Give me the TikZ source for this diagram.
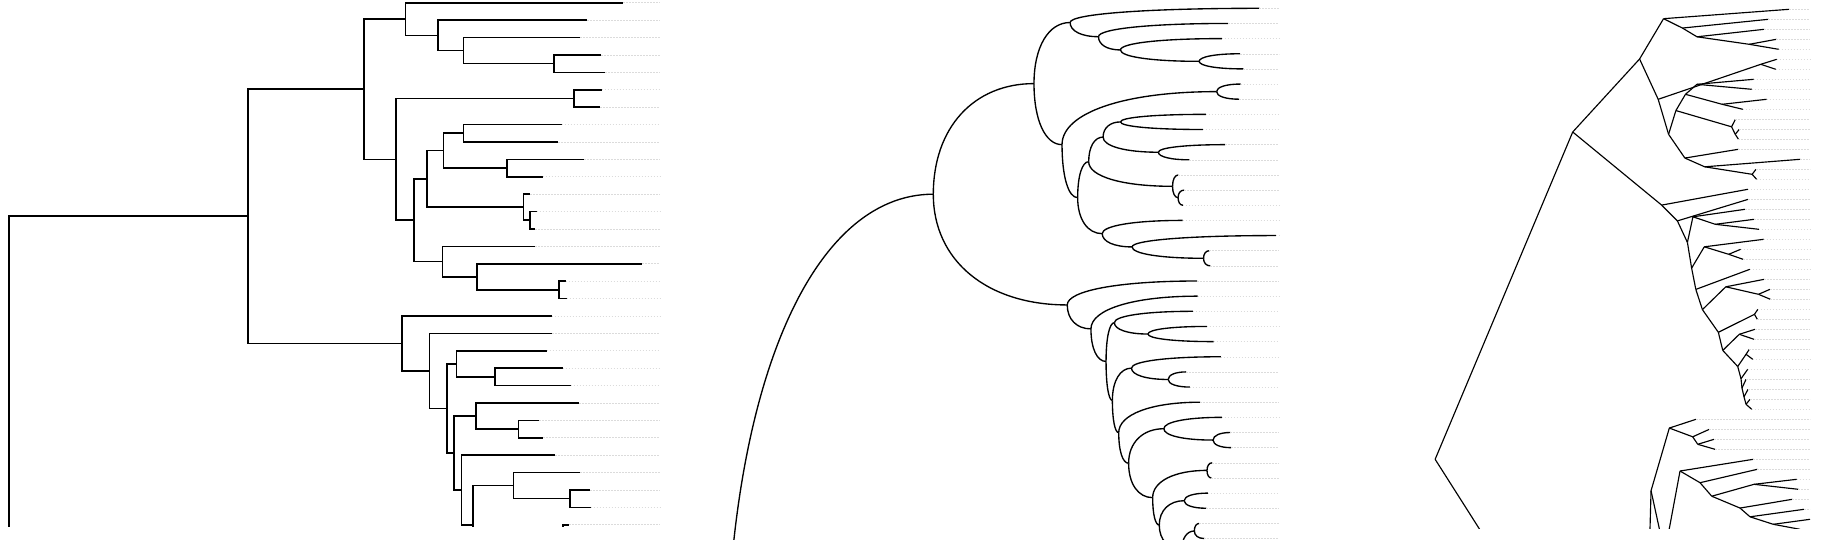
\documentclass[tikz,border=0pt]{standalone}
\tikzset{
  lbr/.style={line width=1.6pt, black},
  mbr/.style={line width=1.35pt, black},
  rbr/.style={line width=1.15pt, black},
  leader/.style={line width=0.5pt, gray!28, dash pattern=on 1.5pt off 1.5pt},
}
% one branch: parent (depth,row) -> child (depth,row)
\newcommand\tbranch[4]{%
  \pgfmathsetmacro\xa{\panelX{#1}}%
  \pgfmathsetmacro\ya{\panelY{#2}}%
  \pgfmathsetmacro\xb{\panelX{#3}}%
  \pgfmathsetmacro\yb{\panelY{#4}}%
  \panelEdge}
% a tip branch with its dotted leader
\newcommand\ttip[4]{\tbranch{#1}{#2}{#3}{#4}\draw[leader] (\xb,\yb) -- (\panelEnd,\yb);}
\newcommand\treedata{%
 \tbranch{9}{45}{247.7}{12.27}%
 \tbranch{9}{45}{369.7}{77.7}%
 \tbranch{247.7}{12.27}{363.7}{4.97}%
 \tbranch{247.7}{12.27}{402}{19.58}%
 \tbranch{363.7}{4.97}{405.3}{0.9375}%
 \tbranch{363.7}{4.97}{396}{9}%
 \ttip{405.3}{0.9375}{623.3}{0}%
 \tbranch{405.3}{0.9375}{438}{1.875}%
 \ttip{438}{1.875}{587.3}{1}%
 \tbranch{438}{1.875}{463.3}{2.75}%
 \ttip{463.3}{2.75}{580}{2}%
 \tbranch{463.3}{2.75}{554}{3.5}%
 \ttip{554}{3.5}{601}{3}%
 \ttip{554}{3.5}{605}{4}%
 \tbranch{396}{9}{574}{5.5}%
 \tbranch{396}{9}{414}{12.5}%
 \ttip{574}{5.5}{601.7}{5}%
 \ttip{574}{5.5}{600}{6}%
 \tbranch{414}{12.5}{426.7}{10.125}%
 \tbranch{414}{12.5}{442.3}{14.875}%
 \tbranch{426.7}{10.125}{443.3}{8.5}%
 \tbranch{426.7}{10.125}{523.3}{11.75}%
 \tbranch{443.3}{8.5}{463.3}{7.5}%
 \tbranch{443.3}{8.5}{507}{9.5}%
 \ttip{463.3}{7.5}{561.7}{7}%
 \ttip{463.3}{7.5}{558.3}{8}%
 \ttip{507}{9.5}{584}{9}%
 \ttip{507}{9.5}{542.7}{10}%
 \ttip{523.3}{11.75}{530}{11}%
 \tbranch{523.3}{11.75}{529.7}{12.5}%
 \ttip{529.7}{12.5}{536.7}{12}%
 \ttip{529.7}{12.5}{535.3}{13}%
 \ttip{442.3}{14.875}{535}{14}%
 \tbranch{442.3}{14.875}{476.7}{15.75}%
 \ttip{476.7}{15.75}{642.3}{15}%
 \tbranch{476.7}{15.75}{559}{16.5}%
 \ttip{559}{16.5}{565.7}{16}%
 \ttip{559}{16.5}{566.7}{17}%
 \ttip{402}{19.58}{551.7}{18}%
 \tbranch{402}{19.58}{429.3}{21.16}%
 \ttip{429.3}{21.16}{552.3}{19}%
 \tbranch{429.3}{21.16}{446.7}{23.31}%
 \tbranch{446.7}{23.31}{456.3}{20.75}%
 \tbranch{446.7}{23.31}{454}{25.88}%
 \ttip{456.3}{20.75}{546.7}{20}%
 \tbranch{456.3}{20.75}{495}{21.5}%
 \ttip{495}{21.5}{562.7}{21}%
 \ttip{495}{21.5}{570.7}{22}%
 \tbranch{454}{25.88}{476}{23.75}%
 \tbranch{454}{25.88}{461.3}{28.01}%
 \ttip{476}{23.75}{579}{23}%
 \tbranch{476}{23.75}{518.3}{24.5}%
 \ttip{518.3}{24.5}{539}{24}%
 \ttip{518.3}{24.5}{543.3}{25}%
 \ttip{461.3}{28.01}{555}{26}%
 \tbranch{461.3}{28.01}{472.7}{30.03}%
 \tbranch{472.7}{30.03}{513.3}{27.75}%
 \tbranch{472.7}{30.03}{500.4}{32.3}%
 \ttip{513.3}{27.75}{580}{27}%
 \tbranch{513.3}{27.75}{570}{28.5}%
 \ttip{570}{28.5}{590}{28}%
 \ttip{570}{28.5}{590.7}{29}%
 \tbranch{500.4}{32.3}{563}{30.5}%
 \tbranch{500.4}{32.3}{508}{34.11}%
 \ttip{563}{30.5}{569}{30}%
 \ttip{563}{30.5}{568}{31}%
 \tbranch{508}{34.11}{536.7}{32.5}%
 \tbranch{508}{34.11}{534}{35.72}%
 \ttip{536.7}{32.5}{564}{32}%
 \ttip{536.7}{32.5}{562.3}{33}%
 \tbranch{534}{35.72}{548.4}{34.5}%
 \tbranch{534}{35.72}{539.7}{36.94}%
 \ttip{548.4}{34.5}{554.1}{34}%
 \ttip{548.4}{34.5}{560}{35}%
 \ttip{539.7}{36.94}{551.3}{36}%
 \tbranch{539.7}{36.94}{541.4}{37.875}%
 \ttip{541.4}{37.875}{548.4}{37}%
 \tbranch{541.4}{37.875}{544.9}{38.75}%
 \ttip{544.9}{38.75}{551.9}{38}%
 \tbranch{544.9}{38.75}{548.4}{39.5}%
 \ttip{548.4}{39.5}{555.3}{39}%
 \ttip{548.4}{39.5}{558.3}{40}%
 \tbranch{369.7}{77.7}{383.6}{48.14}%
 \tbranch{383.6}{48.14}{415.3}{41.875}%
 \tbranch{383.6}{48.14}{407.3}{54.4}%
 \ttip{415.3}{41.875}{461.6}{41}%
 \tbranch{415.3}{41.875}{455.9}{42.75}%
 \ttip{455.9}{42.75}{484.7}{42}%
 \tbranch{455.9}{42.75}{464.6}{43.5}%
 \ttip{464.6}{43.5}{492.9}{43}%
 \ttip{464.6}{43.5}{494.6}{44}%
 \tbranch{407.3}{54.4}{433.9}{46.17}%
 \ttip{433.9}{46.17}{561}{45}%
 \tbranch{433.9}{46.17}{468.6}{47.34}%
 \ttip{468.6}{47.34}{568}{46}%
 \tbranch{468.6}{47.34}{488.9}{48.69}%
 \tbranch{488.9}{48.69}{562.3}{47.5}%
 \ttip{562.3}{47.5}{636.3}{47}%
 \ttip{562.3}{47.5}{639.1}{48}%
 \tbranch{488.9}{48.69}{538}{49.875}%
 \ttip{538}{49.875}{628.7}{49}%
 \tbranch{538}{49.875}{555.3}{50.75}%
 \ttip{555.3}{50.75}{649}{50}%
 \tbranch{555.3}{50.75}{595.7}{51.5}%
 \ttip{595.7}{51.5}{659.4}{51}%
 \ttip{595.7}{51.5}{642}{52}%
}
\begin{document}
\begin{tikzpicture}[x=1pt,y=-1pt]
\useasboundingbox (0,0) rectangle (1833,555);
% rectangular tree
\begin{scope}
  \clip (-5,-5) rectangle (700,526);
  \def\panelX#1{#1}
  \def\panelY#1{2.7+17.4*#1}
  \def\panelEnd{660}
  \def\panelEdge{\draw[lbr] (\xa,\ya) |- (\xb,\yb);}
  \treedata
\end{scope}
% elliptical tree
\begin{scope}
  \clip (700,-5) rectangle (1300,539.8);
  \def\panelX#1{933.3+(#1-247.7)/1.152}
  \def\panelY#1{8.3+15.15*#1}
  \def\panelEnd{1279}
  \def\panelEdge{\draw[mbr] (\xa,\ya) .. controls (\xa,{\ya+0.6*(\yb-\ya)}) and ({\xb-0.6*(\xb-\xa)},\yb) .. (\xb,\yb);}
  \treedata
\end{scope}
% slanted tree
\begin{scope}
  \clip (1400,-5) rectangle (1840,528.5);
  \def\panelX#1{1572.7+(#1-247.7)/1.735}
  \def\panelY#1{9.3+10*#1}
  \def\panelEnd{1810}
  \def\panelEdge{\draw[rbr] (\xa,\ya) -- (\xb,\yb);}
  \treedata
\end{scope}
\end{tikzpicture}
\end{document}
